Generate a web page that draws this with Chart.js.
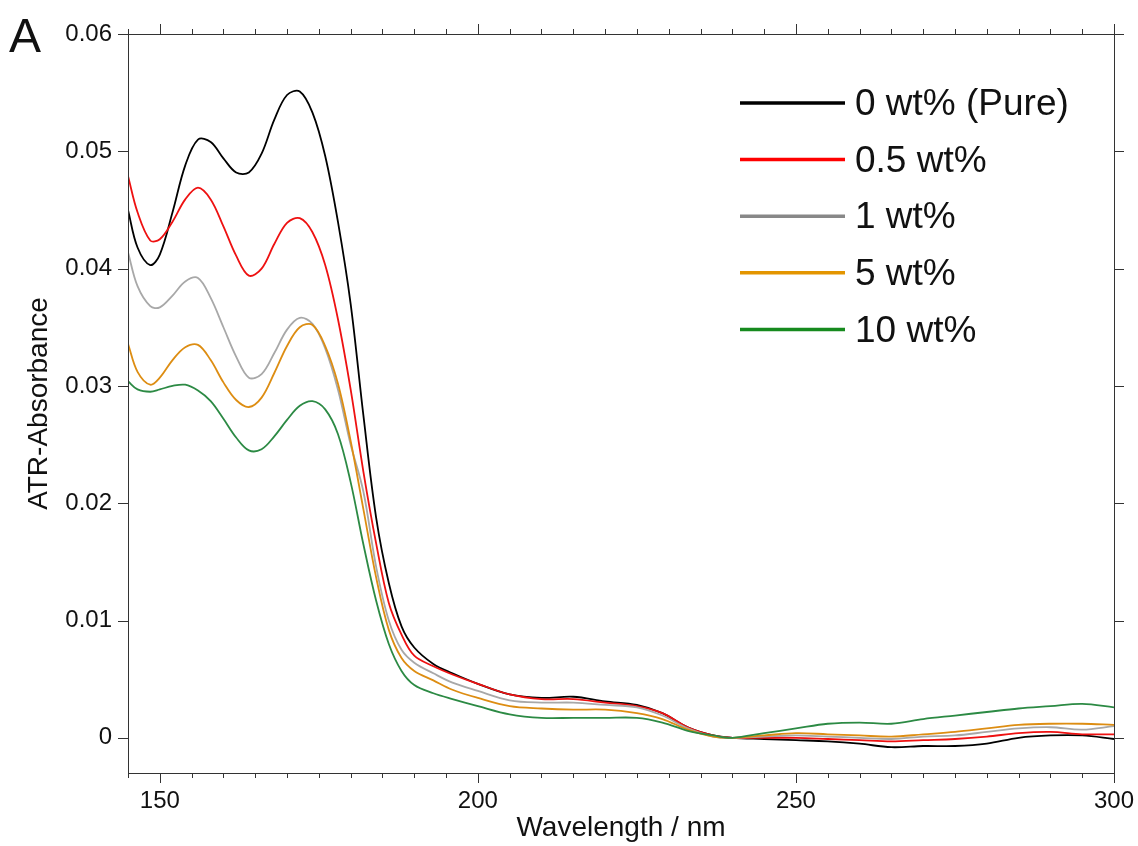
<!DOCTYPE html>
<html>
<head>
<meta charset="utf-8">
<script src="https://cdn.jsdelivr.net/npm/chart.js@4.4.1/dist/chart.umd.min.js"></script>
<style>
  html, body { margin: 0; padding: 0; background: #fff; }
  #wrap { width: 1138px; height: 846px; }
</style>
</head>
<body>
<div id="wrap"><canvas id="chart" width="1138" height="846"></canvas></div>
<script>
  // Wavelength (nm) sampled along the spectra
  const wavelengths = [
    145, 146.5, 148.5, 150, 152, 154, 156, 158, 160, 162,
    164, 166, 168, 170, 172, 174, 176, 178, 180, 182,
    184, 186, 188, 190, 193, 196, 200, 205, 210, 215,
    220, 225, 229, 233, 237, 240, 245, 250, 255, 260,
    265, 270, 275, 280, 285, 290, 295, 300
  ];

  // ATR-absorbance for each filler content
  const pure = [
    0.0450, 0.0418, 0.0403, 0.0412, 0.0448, 0.0488, 0.0510, 0.0508, 0.0494, 0.0482,
    0.0482, 0.0498, 0.0527, 0.0548, 0.0551, 0.0533, 0.0496, 0.0440, 0.0370, 0.0275,
    0.0188, 0.0132, 0.0095, 0.0077, 0.0063, 0.0055, 0.0046, 0.0037, 0.0034, 0.0035,
    0.0031, 0.0028, 0.0021, 0.0009, 0.0002, 0.0000, -0.0001, -0.0002, -0.0003, -0.0005,
    -0.0008, -0.0007, -0.0007, -0.0005, 0.0000, 0.0002, 0.0002, -0.0001
  ];
  const wt05 = [
    0.0479, 0.0448, 0.0424, 0.0425, 0.0440, 0.0459, 0.0469, 0.0459, 0.0436, 0.0411,
    0.0394, 0.0400, 0.0421, 0.0439, 0.0443, 0.0431, 0.0403, 0.0357, 0.0297, 0.0227,
    0.0166, 0.0115, 0.0088, 0.0070, 0.0061, 0.0054, 0.0046, 0.0037, 0.0033, 0.0033,
    0.0030, 0.0027, 0.0021, 0.0009, 0.0002, 0.0000, 0.0000, 0.0000, -0.0001, -0.0002,
    -0.0003, -0.0002, -0.0001, 0.0001, 0.0004, 0.0005, 0.0003, 0.0003
  ];
  const wt1 = [
    0.0414, 0.0385, 0.0368, 0.0367, 0.0377, 0.0389, 0.0392, 0.0375, 0.0350, 0.0325,
    0.0307, 0.0310, 0.0328, 0.0348, 0.0358, 0.0353, 0.0332, 0.0297, 0.0250, 0.0210,
    0.0146, 0.0100, 0.0075, 0.0064, 0.0055, 0.0047, 0.0040, 0.0032, 0.0030, 0.0030,
    0.0028, 0.0026, 0.0019, 0.0008, 0.0001, 0.0000, 0.0001, 0.0002, 0.0001, 0.0000,
    -0.0001, 0.0001, 0.0002, 0.0005, 0.0008, 0.0009, 0.0007, 0.0010
  ];
  const wt5 = [
    0.0336, 0.0312, 0.0301, 0.0307, 0.0322, 0.0333, 0.0335, 0.0322, 0.0303, 0.0288,
    0.0282, 0.0290, 0.0311, 0.0334, 0.0350, 0.0352, 0.0334, 0.0302, 0.0253, 0.0195,
    0.0137, 0.0092, 0.0068, 0.0057, 0.0049, 0.0041, 0.0034, 0.0027, 0.0025, 0.0024,
    0.0024, 0.0021, 0.0016, 0.0007, 0.0001, 0.0000, 0.0002, 0.0004, 0.0003, 0.0002,
    0.0001, 0.0003, 0.0005, 0.0008, 0.0011, 0.0012, 0.0012, 0.0011
  ];
  const wt10 = [
    0.0304, 0.0297, 0.0295, 0.0297, 0.0300, 0.0301, 0.0296, 0.0287, 0.0272, 0.0256,
    0.0245, 0.0246, 0.0257, 0.0271, 0.0283, 0.0287, 0.0280, 0.0259, 0.0218, 0.0165,
    0.0117, 0.0080, 0.0057, 0.0045, 0.0038, 0.0033, 0.0027, 0.0020, 0.0017, 0.0017,
    0.0017, 0.0017, 0.0013, 0.0006, 0.0002, 0.0000, 0.0004, 0.0008, 0.0012, 0.0013,
    0.0012, 0.0016, 0.0019, 0.0022, 0.0025, 0.0027, 0.0029, 0.0026
  ];

  const seriesLabels = ['0 wt% (Pure)', '0.5 wt%', '1 wt%', '5 wt%', '10 wt%'];
  const xTicks = [150, 200, 250, 300];
  const xMinorStep = 5;
  const yTicks = [0, 0.01, 0.02, 0.03, 0.04, 0.05, 0.06];

  const lineColors = ['#000000', '#ee1111', '#a8a8a8', '#dd8d12', '#2c8a44'];
  const legendColors = ['#000000', '#ff0000', '#888888', '#e39500', '#168a1e'];
  const fontFamily = "'Liberation Sans', Arial, sans-serif";

  const toPoints = vals => wavelengths.map((w, i) => ({ x: w, y: vals[i] }));

  const datasets = [pure, wt05, wt1, wt5, wt10].map((vals, i) => ({
    label: seriesLabels[i],
    data: toPoints(vals),
    borderColor: lineColors[i],
    borderWidth: 1.8,
    pointRadius: 0,
    fill: false,
    tension: 0.35
  }));
  // draw pure on top, like the original
  datasets.reverse();

  // frame, tick marks, panel letter and legend
  const decorations = {
    id: 'decorations',
    afterDatasetsDraw(chart) {
      const { ctx, chartArea: a, scales: { x, y } } = chart;
      ctx.save();
      ctx.strokeStyle = '#333';
      ctx.lineWidth = 1;
      ctx.strokeRect(Math.round(a.left) + 0.5, Math.round(a.top) + 0.5,
        Math.round(a.right - a.left), Math.round(a.bottom - a.top));

      ctx.beginPath();
      for (let w = x.min; w <= x.max + 0.01; w += xMinorStep) {
        const px = Math.round(x.getPixelForValue(w)) + 0.5;
        const len = xTicks.includes(w) ? 10 : 5;
        ctx.moveTo(px, a.bottom); ctx.lineTo(px, a.bottom + len);
        ctx.moveTo(px, a.top); ctx.lineTo(px, a.top - len);
      }
      yTicks.forEach(v => {
        const py = Math.round(y.getPixelForValue(v)) + 0.5;
        ctx.moveTo(a.left, py); ctx.lineTo(a.left - 10, py);
        ctx.moveTo(a.right, py); ctx.lineTo(a.right + 10, py);
      });
      ctx.stroke();

      // panel letter
      ctx.fillStyle = '#111';
      ctx.font = '48px ' + fontFamily;
      ctx.textBaseline = 'alphabetic';
      ctx.textAlign = 'left';
      ctx.fillText('A', 9, 52);

      // legend
      const lx0 = 740, lx1 = 845, ly0 = 103, dy = 56.6;
      ctx.font = '37px ' + fontFamily;
      ctx.textBaseline = 'middle';
      seriesLabels.forEach((lab, i) => {
        const ly = ly0 + i * dy;
        ctx.strokeStyle = legendColors[i];
        ctx.lineWidth = 3.5;
        ctx.beginPath();
        ctx.moveTo(lx0, ly); ctx.lineTo(lx1, ly);
        ctx.stroke();
        ctx.fillStyle = '#111';
        ctx.fillText(lab, 855, ly + 2);
      });
      ctx.restore();
    }
  };

  const ctx = document.getElementById('chart').getContext('2d');
  const chart = new Chart(ctx, {
    type: 'line',
    data: { datasets: datasets },
    options: {
      responsive: false,
      animation: false,
      devicePixelRatio: 1,
      layout: { padding: { top: 34, right: 24, left: 0, bottom: 0 } },
      plugins: { legend: { display: false }, tooltip: { enabled: false } },
      scales: {
        x: {
          type: 'linear',
          min: 145,
          max: 300,
          afterBuildTicks: s => { s.ticks = xTicks.map(v => ({ value: v })); },
          afterFit: s => { s.height = 73; s.paddingLeft = 0; s.paddingRight = 0; },
          grid: { display: false, drawTicks: false },
          border: { display: false },
          ticks: {
            font: { family: fontFamily, size: 24 },
            color: '#111',
            padding: 14,
            maxRotation: 0,
            autoSkip: false
          },
          title: {
            display: true,
            text: 'Wavelength / nm',
            font: { family: fontFamily, size: 28 },
            color: '#111',
            padding: { top: 0, bottom: 1 }
          }
        },
        y: {
          type: 'linear',
          min: -0.003,
          max: 0.06,
          afterBuildTicks: s => { s.ticks = yTicks.map(v => ({ value: v })); },
          afterFit: s => { s.width = 128; s.paddingTop = 0; s.paddingBottom = 0; },
          grid: { display: false, drawTicks: false },
          border: { display: false },
          ticks: {
            font: { family: fontFamily, size: 24 },
            color: '#111',
            padding: 16,
            callback: v => (v === 0 ? '0' : v.toFixed(2))
          },
          title: {
            display: true,
            text: 'ATR-Absorbance',
            font: { family: fontFamily, size: 28 },
            color: '#111',
            padding: { top: 22, bottom: 0 }
          }
        }
      }
    },
    plugins: [decorations]
  });
</script>
</body>
</html>
